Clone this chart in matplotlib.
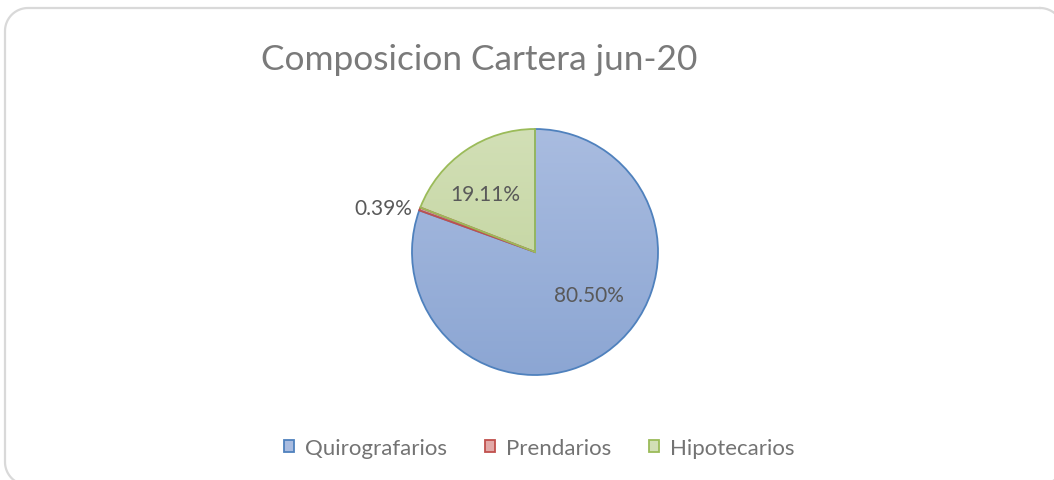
import numpy as np
import matplotlib
matplotlib.use("Agg")
import matplotlib.pyplot as plt
from matplotlib.patches import Patch
from matplotlib.colors import LinearSegmentedColormap

# dati
categorie = ["Quirografarios", "Prendarios", "Hipotecarios"]
valori = [80.50, 0.39, 19.11]
titolo = "Composicion Cartera jun-20"

bordi = ["#4F81BD", "#C0504D", "#9BBB59"]
grad = [("#A9BCE0", "#8CA6D3"), ("#E2A9A8", "#D28886"), ("#D2DFB6", "#BDD197")]

plt.rcParams['font.family'] = ['Lato', 'DejaVu Sans']

fig = plt.figure(figsize=(10.54, 4.81), dpi=100)
W, H = 1054, 481

# cornice arrotondata, asse di sfondo in pixel (y verso il basso)
bg = fig.add_axes([0, 0, 1, 1], zorder=-1)
bg.set_xlim(0, W)
bg.set_ylim(H, 0)
bg.axis("off")
r = 23
x0, x1, y0, y1 = 5, 1063, 9, 486
xs, ys = [], []
for (ccx, ccy, a0) in [(x1 - r, y0 + r, 270), (x1 - r, y1 - r, 0),
                       (x0 + r, y1 - r, 90), (x0 + r, y0 + r, 180)]:
    t = np.radians(np.linspace(a0, a0 + 90, 20))
    xs += list(ccx + r * np.cos(t))
    ys += list(ccy + r * np.sin(t))
xs.append(xs[0])
ys.append(ys[0])
bg.plot(xs, ys, color="#D9D9D9", linewidth=1.6)

cx, cy, rad = 535, 253, 123
ax = fig.add_axes([(cx - rad) / W, (H - cy - rad) / H, 2 * rad / W, 2 * rad / H])
wedges, _ = ax.pie(valori, startangle=90, counterclock=False,
                   wedgeprops=dict(linewidth=1.3))
ax.set_xlim(-1, 1)
ax.set_ylim(-1, 1)
ax.set_aspect("auto")
ax.axis("off")

for w, c, b in zip(wedges, grad, bordi):
    w.set_facecolor("none")
    w.set_edgecolor(b)
    w.set_zorder(3)
    cmap = LinearSegmentedColormap.from_list("g", [c[1], c[0]])
    img = ax.imshow(np.linspace(0, 1, 256).reshape(-1, 1), cmap=cmap, origin="lower",
                    extent=(-1, 1, -1, 1), aspect="auto", zorder=2)
    img.set_clip_path(w)

# etichette percentuali
pos = [(0.44, -0.35), (-1.236, 0.358), (-0.405, 0.475)]
for v, p in zip(valori, pos):
    ax.text(p[0], p[1], f"{v:.2f}%", ha="center", va="center",
            fontsize=15, color="#595959", zorder=5)

fig.text(479 / W, 1 - 70 / H, titolo, ha="center", va="baseline",
         fontsize=25.4, color="#7A7A7A")

handles = [Patch(facecolor=c[0], edgecolor=b, linewidth=1.3) for c, b in zip(grad, bordi)]
fig.legend(handles, categorie, loc="center", bbox_to_anchor=(539 / W, 1 - 449 / H),
           ncol=3, frameon=False, fontsize=16, labelcolor="#737373",
           handlelength=0.45, handleheight=0.45, handletextpad=0.5, columnspacing=1.7)

fig.savefig("out.png", dpi=100)
